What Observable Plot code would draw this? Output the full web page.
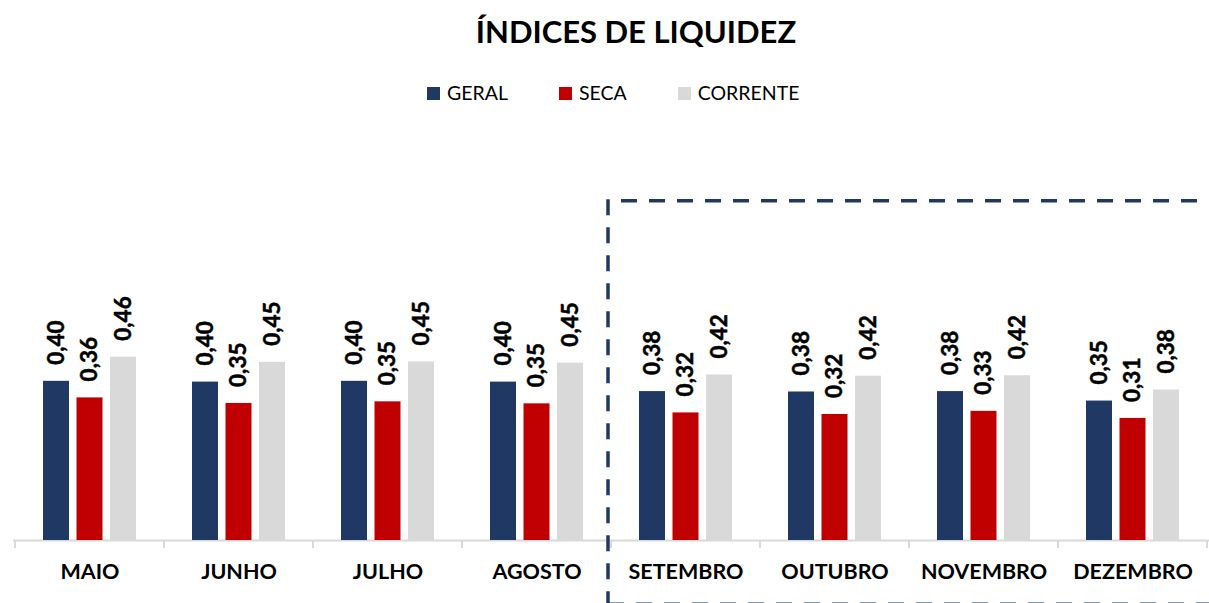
<!DOCTYPE html>
<html>
<head>
<meta charset="utf-8">
<script src="https://cdn.jsdelivr.net/npm/d3@7"></script>
<script src="https://cdn.jsdelivr.net/npm/@observablehq/plot@0.6"></script>
<style>
  body { margin: 0; background: #fff; font-family: Lato, "Open Sans", sans-serif; }
  #wrap { position: relative; width: 1209px; height: 603px; overflow: hidden; background: #fff; }
  #title { position: absolute; left: 0; top: 15.5px; width: 1272px; text-align: center; font-size: 31px; font-weight: 700; line-height: 1; color: #000; white-space: nowrap; }
  #legend { position: absolute; left: 427px; top: 82.5px; display: flex; gap: 51px; font-size: 19.5px; line-height: 1; color: #000; white-space: nowrap; }
  .sw { display: inline-block; width: 13px; height: 13px; margin-right: 7px; }
  #chart { position: absolute; left: 0; top: 110px; }
</style>
</head>
<body>
<div id="wrap">
  <div id="title">ÍNDICES DE LIQUIDEZ</div>
  <div id="legend"></div>
  <div id="chart"></div>
</div>
<script>
// ---- data ----
const months = ["MAIO", "JUNHO", "JULHO", "AGOSTO", "SETEMBRO", "OUTUBRO", "NOVEMBRO", "DEZEMBRO"];
const seriesNames = ["GERAL", "SECA", "CORRENTE"];
const geral    = [0.403, 0.401, 0.403, 0.401, 0.377, 0.376, 0.377, 0.353];
const seca     = [0.361, 0.347, 0.351, 0.346, 0.323, 0.319, 0.327, 0.309];
const corrente = [0.464, 0.451, 0.452, 0.449, 0.419, 0.416, 0.417, 0.381];
const seriesColors = ["#203864", "#C00000", "#D9D9D9"];
const highlightMonths = ["SETEMBRO", "OUTUBRO", "NOVEMBRO", "DEZEMBRO"];
const highlightTop = 0.859;

const seriesValues = [geral, seca, corrente];
const table = months.flatMap((m, i) => seriesNames.map((s, k) => ({month: m, series: s, value: seriesValues[k][i]})));

const fmt = d3.formatLocale({decimal: ",", thousands: ".", grouping: [3], currency: ["", ""]}).format(".2f");

// ---- legend ----
const legend = d3.select("#legend");
seriesNames.forEach((s, k) => {
  const item = legend.append("div");
  item.append("span").attr("class", "sw").style("background", seriesColors[k]);
  item.append("span").text(s);
});

// ---- layout ----
const W = 1209, H = 493, mL = 13, mR = 0, mT = 35, mB = 63;
const step = (W - mL - mR) / months.length;
const barW = 26.5, barStep = 33.5;
const inset = (step - barW) / 2;

function bandTicks(index, scales, values, dims) {
  const x = scales.x;
  const y0 = dims.height - dims.marginBottom;
  const g = d3.create("svg:g").attr("stroke", "#D9D9D9").attr("stroke-width", 2);
  const xs = months.map(m => x(m)).concat([x(months[months.length - 1]) + x.bandwidth()]);
  for (const xv of xs) g.append("line").attr("x1", xv).attr("x2", xv).attr("y1", y0).attr("y2", y0 + 8);
  return g.node();
}

function highlightBox(index, scales, values, dims) {
  const x = scales.x, y = scales.y;
  const x0 = x(highlightMonths[0]) - 3;
  const yTop = y(highlightTop);
  const g = d3.create("svg:g").attr("fill", "none").attr("stroke", "#1F3864")
    .attr("stroke-width", 3.5).attr("stroke-dasharray", "16,12");
  g.append("line").attr("x1", x0).attr("x2", x0).attr("y1", yTop - 1.5).attr("y2", dims.height + 2);
  g.append("line").attr("x1", x0 + 1).attr("x2", dims.width + 30).attr("y1", yTop).attr("y2", yTop).attr("stroke-dashoffset", 16);
  g.append("line").attr("x1", x0 + 1).attr("x2", dims.width + 30).attr("y1", dims.height + 1).attr("y2", dims.height + 1).attr("stroke-dashoffset", 1).attr("stroke-opacity", 0.7);
  return g.node();
}

const barMarks = seriesNames.map((s, k) => Plot.barY(table.filter(d => d.series === s), {
  x: "month", y: "value", fill: "series", dx: (k - 1) * barStep, insetLeft: inset, insetRight: inset
}));
const labelMarks = seriesNames.map((s, k) => Plot.text(table.filter(d => d.series === s), {
  x: "month", y: "value", text: d => fmt(d.value), rotate: -90, textAnchor: "start",
  dx: (k - 1) * barStep, dy: -16.5, fontSize: 22.5, fontWeight: "bold", fill: "#000",
  stroke: "#000", strokeWidth: 0.5
}));

const chart = Plot.plot({
  width: W, height: H,
  marginLeft: mL, marginRight: mR, marginTop: mT, marginBottom: mB,
  style: {fontFamily: "Lato, 'Open Sans', sans-serif", fontSize: "21.5px", fontWeight: "bold", color: "#000", background: "transparent", overflow: "visible"},
  x: {domain: months, padding: 0, tickSize: 0, tickPadding: 23, label: null},
  y: {domain: [0, 1], axis: null},
  color: {domain: seriesNames, range: seriesColors},
  marks: [
    Plot.ruleY([0], {stroke: "#D9D9D9", strokeWidth: 2}),
    bandTicks,
    ...barMarks,
    ...labelMarks,
    highlightBox
  ]
});
document.getElementById("chart").appendChild(chart);
</script>
</body>
</html>
